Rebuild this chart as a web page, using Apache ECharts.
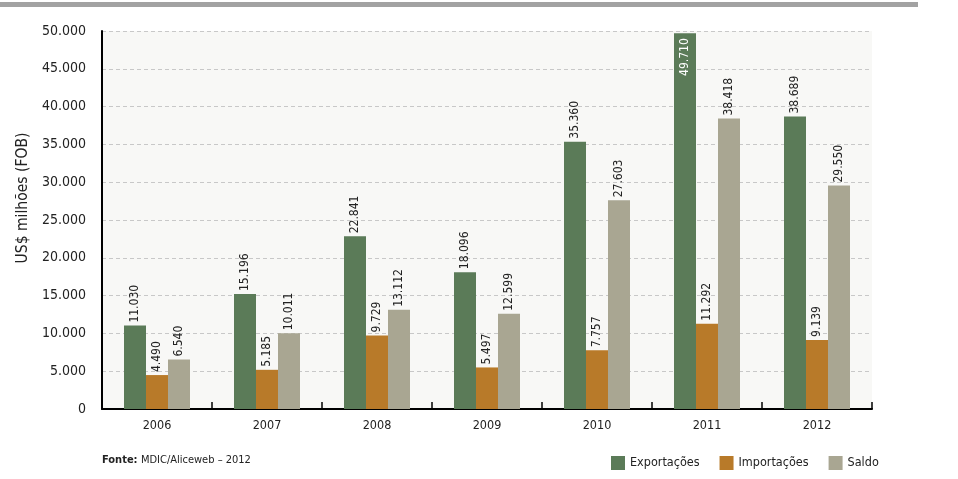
<!DOCTYPE html>
<html>
<head>
<meta charset="utf-8">
<script src="https://cdn.jsdelivr.net/npm/echarts@6/dist/echarts.min.js"></script>
<style>html,body{margin:0;padding:0;background:#fff;}#c{width:958px;height:479px;}</style>
</head>
<body>
<div id="c"></div>
<script>
const categories = ['2006','2007','2008','2009','2010','2011','2012'];
const exportacoes = [11030, 15196, 22841, 18096, 35360, 49710, 38689];
const importacoes = [4490, 5185, 9729, 5497, 7757, 11292, 9139];
const saldo = [6540, 10011, 13112, 12599, 27603, 38418, 29550];
const seriesNames = ['Exportações', 'Importações', 'Saldo'];
const yAxisTitle = 'US$ milhões (FOB)';
const sourceNote = ['Fonte:', 'MDIC/Aliceweb – 2012'];

const FONT = "'Liberation Sans Narrow', 'DejaVu Sans Condensed', 'Arial Narrow', sans-serif";
function fmt(v){ return String(v).replace(/\B(?=(\d{3})+(?!\d))/g, '.'); }

const colors = ['#5b7b58', '#b87a29', '#a9a692'];
const labelBase = {
  show: true, position: 'top', rotate: 90, align: 'left', verticalAlign: 'middle',
  distance: 3, fontFamily: FONT, fontSize: 12, color: '#222',
  formatter: p => fmt(p.value)
};
function mkData(arr, insideIdx){
  return arr.map((v, i) => {
    if (insideIdx === i) {
      return { value: v, label: { position: 'insideTop', align: 'right', color: '#fff', distance: 5 } };
    }
    return v;
  });
}
const chart = echarts.init(document.getElementById('c'), null, {renderer: 'canvas'});
chart.setOption({
  animation: false,
  color: colors,
  textStyle: { fontFamily: FONT },
  graphic: [
    { type: 'rect', shape: { x: 0, y: 2, width: 918, height: 5 }, style: { fill: '#a2a2a2' } },
    { type: 'text', left: 102, top: 454, style: { rich: { b: { fontWeight: 'bold', fontSize: 11, fontFamily: FONT, fill: '#222' }, n: { fontSize: 11, fontFamily: FONT, fill: '#222' } }, text: '{b|' + sourceNote[0] + '} {n|' + sourceNote[1] + '}' } },
    { type: 'text', x: 23, y: 198, rotation: Math.PI / 2, style: { text: yAxisTitle, fontFamily: FONT, fontSize: 15.5, fill: '#222', align: 'center', verticalAlign: 'middle' } }
  ],
  grid: { left: 102, right: 86, top: 31, bottom: 70, show: true, backgroundColor: '#f8f8f6', borderWidth: 0 },
  legend: {
    left: 606, top: 451, itemWidth: 14, itemHeight: 14, itemGap: 20,
    icon: 'rect', textStyle: { fontFamily: FONT, fontSize: 12.5, color: '#222' },
    data: seriesNames
  },
  xAxis: {
    type: 'category', data: categories,
    axisLine: { lineStyle: { color: '#000', width: 2 } },
    axisTick: { show: true, inside: true, length: 7, lineStyle: { color: '#000', width: 1.5 } },
    axisLabel: { fontFamily: FONT, fontSize: 12.5, color: '#222', margin: 10 }
  },
  yAxis: {
    type: 'value', min: 0, max: 50000, interval: 5000,
    axisLine: { show: true, lineStyle: { color: '#000', width: 2 } },
    axisTick: { show: false },
    axisLabel: { fontFamily: FONT, fontSize: 14, color: '#222', margin: 16, formatter: v => fmt(v) },
    splitLine: { lineStyle: { color: '#c8c8c8', type: [4, 3], width: 1 } }
  },
  series: [
    { name: seriesNames[0], type: 'bar', data: mkData(exportacoes, 5), barWidth: 22, barGap: '0%', label: labelBase },
    { name: seriesNames[1], type: 'bar', data: mkData(importacoes), barWidth: 22, barGap: '0%', label: labelBase },
    { name: seriesNames[2], type: 'bar', data: mkData(saldo), barWidth: 22, barGap: '0%', label: labelBase }
  ]
});
</script>
</body>
</html>
